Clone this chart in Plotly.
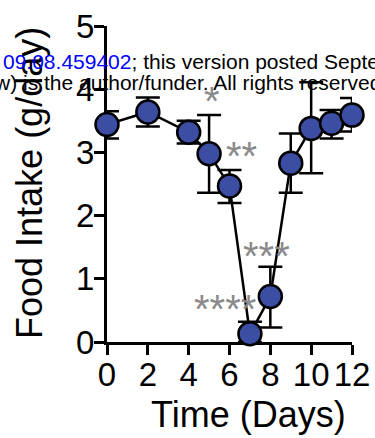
import plotly.graph_objects as go

# ---- data ----
days = [0, 2, 4, 5, 6, 7, 8, 9, 10, 11, 12]
intake = [3.44, 3.64, 3.32, 2.98, 2.47, 0.13, 0.72, 2.83, 3.38, 3.46, 3.59]
err_up = [0.21, 0.23, 0.18, 0.61, 0.25, 0.19, 0.47, 0.47, 0.73, 0.21, 0.27]
err_down = [0.22, 0.23, 0.18, 0.62, 0.27, 0.13, 0.49, 0.47, 0.71, 0.24, 0.26]

x_ticks = [0, 2, 4, 6, 8, 10, 12]
y_ticks = [0, 1, 2, 3, 4, 5]

star_text = ["*", "**", "***", "****"]
star_x = [5.13, 6.61, 7.83, 5.79]
star_y = [3.88, 3.01, 1.43, 0.58]

wm_line1 = ('<span style="color:#0000ff">09.08.459402</span>; this version posted '
            'September 9, 2021. The copyright holder for this preprint')
wm_line2 = 'w) is the author/funder. All rights reserved. No reuse allowed without permission.'

# ---- layout geometry ----
W, H = 375, 438
L, R, T, B = 107, 23, 26, 96
PW, PH = W - L - R, H - T - B

def px_x(p):
    return (p - L) / PW

def px_y(p):
    return 1 - (p - T) / PH

FONT = "Liberation Sans, Arial, sans-serif"
BLUE = "#3c4da4"

fig = go.Figure()
fig.add_trace(go.Scatter(
    x=days, y=intake,
    mode="lines+markers",
    line=dict(color="black", width=2.5),
    marker=dict(size=23, color=BLUE, line=dict(color="black", width=2.5)),
    error_y=dict(type="data", symmetric=False, array=err_up, arrayminus=err_down,
                 color="black", thickness=2.5, width=12),
    cliponaxis=False,
    showlegend=False,
))

annotations = []
for t, x, y in zip(star_text, star_x, star_y):
    annotations.append(dict(x=x, y=y, xref="x", yref="y", text=t, showarrow=False,
                            font=dict(family=FONT, size=40, color="#8a8a8a"),
                            xanchor="center", yanchor="middle", yshift=-4))

annotations.append(dict(x=px_x(248), y=px_y(415), xref="paper", yref="paper",
                        text="Time (Days)", showarrow=False,
                        font=dict(family=FONT, size=36, color="black"),
                        xanchor="center", yanchor="middle"))

annotations.append(dict(x=px_x(29), y=px_y(183), xref="paper", yref="paper",
                        text="Food Intake (g/day)", showarrow=False, textangle=-90,
                        font=dict(family=FONT, size=36, color="black"),
                        xanchor="center", yanchor="middle"))

annotations.append(dict(x=px_x(1), y=px_y(61), xref="paper", yref="paper",
                        text=wm_line1, showarrow=False,
                        font=dict(family=FONT, size=21, color="black"),
                        xanchor="left", yanchor="middle"))
annotations.append(dict(x=px_x(-8), y=px_y(82), xref="paper", yref="paper",
                        text=wm_line2, showarrow=False,
                        font=dict(family=FONT, size=21, color="black"),
                        xanchor="left", yanchor="middle"))

axis_common = dict(showline=True, linecolor="black", linewidth=3, ticks="outside",
                   ticklen=10, tickwidth=3, tickcolor="black", showgrid=False,
                   zeroline=False, layer="below traces", automargin=False,
                   tickfont=dict(family=FONT, size=33, color="black"))

fig.update_layout(
    width=W, height=H,
    margin=dict(l=L, r=R, t=T, b=B),
    paper_bgcolor="white", plot_bgcolor="white",
    xaxis=dict(range=[0, 12], tickvals=x_ticks, ticklabelstandoff=-9, **axis_common),
    yaxis=dict(range=[0, 5], tickvals=y_ticks, ticklabelstandoff=-7, **axis_common),
    annotations=annotations,
    font=dict(family=FONT),
)

fig.write_html("out.html", config={"displayModeBar": False},
               post_script="document.body.style.margin='0';document.body.style.padding='0';")
